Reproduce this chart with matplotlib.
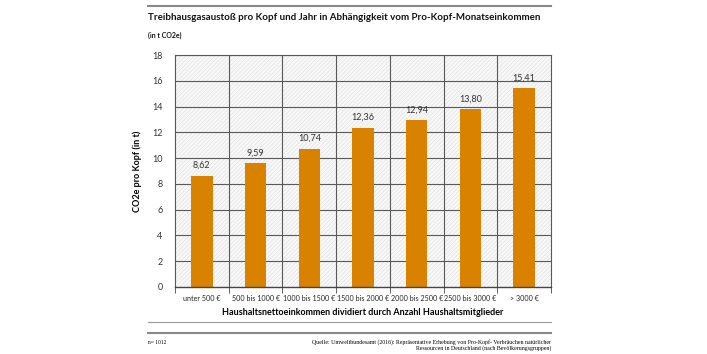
import numpy as np
import matplotlib.pyplot as plt
from matplotlib.lines import Line2D
from matplotlib.patches import Rectangle

plt.rcParams['font.family'] = ['Lato', 'DejaVu Sans']
plt.rcParams['hatch.color'] = '#dddddd'
plt.rcParams['hatch.linewidth'] = 0.4

categories = ["unter 500 €", "500 bis 1000 €", "1000 bis 1500 €", "1500 bis 2000 €",
              "2000 bis 2500 €", "2500 bis 3000 €", "> 3000 €"]
values = [8.62, 9.59, 10.74, 12.36, 12.94, 13.80, 15.41]
yticks = [0, 2, 4, 6, 8, 10, 12, 14, 16, 18]

fig = plt.figure(figsize=(7.07, 3.54), dpi=100)
ax = fig.add_axes([175/707, 1-287/354, 376/707, 232/354])

x = np.arange(len(categories))
ax.set_xlim(-0.5, len(categories) - 0.5)
ax.set_ylim(0, 18)

# hatched background
ax.add_patch(Rectangle((0, 0), 1, 1, transform=ax.transAxes, facecolor='#f8f8f8',
                       hatch='////////', edgecolor='#dddddd', linewidth=0, zorder=0))

for y in yticks[1:]:
    ax.axhline(y, color='#595959', linewidth=0.8, zorder=1)
for b in np.arange(0.5, len(categories) - 0.5):
    ax.axvline(b, color='#595959', linewidth=0.8, zorder=1)

ax.bar(x, values, width=0.4, color='#d98200', zorder=2)
for xi, v in zip(x, values):
    ax.text(xi, v + 0.45, f"{v:.2f}".replace('.', ','), ha='center', va='bottom',
            fontsize=6.5, color='#333333')

for s in ['top', 'right', 'left']:
    ax.spines[s].set_color('#595959')
    ax.spines[s].set_linewidth(0.8)
ax.spines['bottom'].set_color('#444444')
ax.spines['bottom'].set_linewidth(1.0)

ax.set_yticks(yticks)
ax.set_yticklabels([str(t) for t in yticks], fontsize=6.5, color='#333333')
ax.tick_params(axis='y', length=0, pad=9)
ax.set_xticks(x)
ax.set_xticklabels(categories, fontsize=5.1, color='#222222')
ax.tick_params(axis='x', length=0, pad=6)
ax.set_xticks(np.arange(-0.5, len(categories)), minor=True)
ax.tick_params(axis='x', which='minor', length=4, color='#444444')

ax.set_ylabel("CO2e pro Kopf (in t)", fontsize=6.5, fontweight='bold', labelpad=7)
ax.set_xlabel("Haushaltsnettoeinkommen dividiert durch Anzahl Haushaltsmitglieder",
              fontsize=6.5, fontweight='bold', labelpad=4)

fig.text(148/707, 1-17/354, "Treibhausgasaustoß pro Kopf und Jahr in Abhängigkeit vom Pro-Kopf-Monatseinkommen",
         fontsize=7.05, fontweight='bold', va='center', color='#111111')
fig.text(148/707, 1-35/354, "(in t CO2e)", fontsize=5.0, fontweight='bold', va='center', color='#111111')

fig.add_artist(Line2D([148/707, 551/707], [1-6/354, 1-6/354], transform=fig.transFigure,
                      color='#888888', linewidth=1.5))
fig.add_artist(Line2D([148/707, 551/707], [1-322/354, 1-322/354], transform=fig.transFigure,
                      color='#999999', linewidth=0.8))
fig.add_artist(Line2D([148/707, 551/707], [1-333/354, 1-333/354], transform=fig.transFigure,
                      color='#888888', linewidth=1.5))

fig.text(148/707, 1-343/354, "n= 1012", fontsize=4.0, family='Liberation Serif', va='center')
fig.text(551/707, 1-345/354,
         "Quelle: Umweltbundesamt (2016): Repräsentative Erhebung von Pro-Kopf- Verbräuchen natürlicher\nRessourcen in Deutschland (nach Bevölkerungsgruppen)",
         fontsize=4.2, family='Liberation Serif', va='center', ha='right', multialignment='right')

fig.savefig("out.png", dpi=100)
